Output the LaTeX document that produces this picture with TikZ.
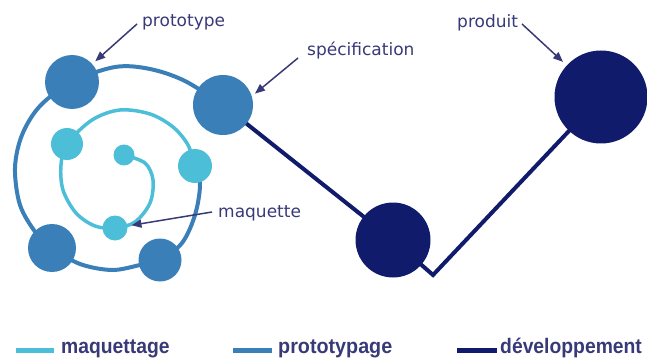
\documentclass[tikz,border=0pt]{standalone}
\usepackage{fontspec}
\setmainfont{DejaVu Sans}
\newfontfamily\legfont{Liberation Sans}
\usetikzlibrary{arrows.meta,backgrounds}
\definecolor{cyanC}{RGB}{76,190,216}
\definecolor{blueC}{RGB}{58,127,184}
\definecolor{navyC}{RGB}{16,28,107}
\definecolor{txtC}{RGB}{56,58,120}
\begin{document}
\begin{tikzpicture}[x=1pt,y=-1pt,
  dot/.style={circle,inner sep=0pt,minimum size=#1},
  lbl/.style={anchor=base west,text=txtC,font=\fontsize{17}{20}\selectfont,inner sep=0pt},
  leg/.style={anchor=base west,text=txtC,font=\legfont\bfseries\fontsize{21}{24}\selectfont,inner sep=0pt},
  arr/.style={draw=txtC,line width=1.5pt,-{Triangle[length=10pt,width=8pt]},shorten >=4pt},
  legline/.style={line width=5pt}]
\useasboundingbox (0,0) rectangle (647,358);
% circles
\node[dot=54, fill=blueC] (proto) at (72,82) {};
\node[dot=60, fill=blueC] (spec) at (223,105) {};
\node[dot=48, fill=blueC] (bl) at (52,248) {};
\node[dot=43, fill=blueC] (br) at (160,260) {};
\node[dot=34, fill=cyanC] (m2) at (195,166) {};
\node[dot=32, fill=cyanC] (m1) at (67,144) {};
\node[dot=25, fill=cyanC] (maq) at (115,228) {};
\node[dot=21, fill=cyanC] (m0) at (124,155) {};
\node[dot=75, fill=navyC] (dev) at (393,240) {};
\node[dot=93, fill=navyC] (prod) at (601,97) {};
\coordinate (corner) at (433,275);
\begin{pgfonlayer}{background}
\draw[blueC, line width=4pt] plot[smooth, tension=0.55] coordinates {(spec.center) (185,81) (150,69) (115,67) (proto.center) (40,106) (22,135) (15,168) (20,205) (36,233) (bl.center) (80,264) (112,270) (140,265) (br.center) (182,243) (195,215) (200,185) (m2.center)};
\draw[cyanC, line width=3.5pt] plot[smooth, tension=0.55] coordinates {(m2.center) (188,145) (173,127) (150,114) (120,110) (92,120) (m1.center) (61,165) (63,190) (76,213) (95,226) (maq.center) (135,222) (150,203) (153,180) (145,163) (m0.center)};
\draw[navyC, line width=4pt, line join=miter] (spec.center) -- (dev.center) -- (corner) -- (prod.center);
\end{pgfonlayer}
% labels
\node[lbl] (tproto) at (142,27) {prototype};
\node[lbl] (tspec) at (307,56) {spécification};
\node[lbl] (tprod) at (457,28) {produit};
\node[lbl] (tmaq) at (218,217) {maquette};
\coordinate (aP) at (137,24);
\coordinate (aS) at (298,58);
\coordinate (aD) at (522,24);
\coordinate (aM) at (212,212);
\draw[arr] (aP) -- (proto);
\draw[arr] (aS) -- (spec.17);
\draw[arr,shorten >=5pt] (aD) -- (prod);
\draw[arr] (aM) -- (maq);
% legend
\coordinate (l1a) at (16,350); \coordinate (l1b) at (54,350);
\coordinate (l2a) at (233,350); \coordinate (l2b) at (272,350);
\coordinate (l3a) at (457,350); \coordinate (l3b) at (497,350);
\draw[cyanC, legline] (l1a) -- (l1b);
\draw[blueC, legline] (l2a) -- (l2b);
\draw[navyC, legline] (l3a) -- (l3b);
\node[leg] (g1) at (61,353) {\scalebox{0.92}[1]{maquettage}};
\node[leg] (g2) at (278,353) {\scalebox{0.94}[1]{prototypage}};
\node[leg] (g3) at (500,353) {\scalebox{0.92}[1]{développement}};
\end{tikzpicture}
\end{document}
